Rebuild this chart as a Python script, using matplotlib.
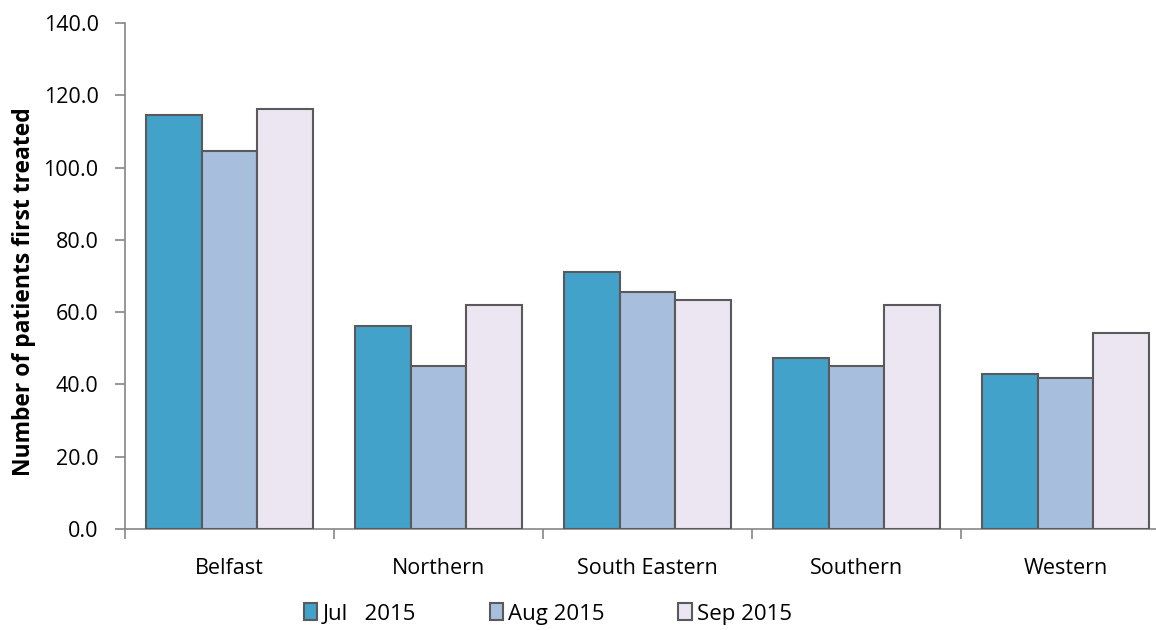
import matplotlib
matplotlib.use("Agg")
import matplotlib.pyplot as plt
import numpy as np

categories = ["Belfast", "Northern", "South Eastern", "Southern", "Western"]
series_names = ["Jul   2015", "Aug 2015", "Sep 2015"]
jul = [114.6, 56.2, 71.1, 47.3, 42.9]
aug = [104.6, 45.1, 65.6, 45.1, 41.8]
sep = [116.2, 62.0, 63.4, 62.0, 54.2]
yticks = [0, 20, 40, 60, 80, 100, 120, 140]

colors = ["#42A2CA", "#A8BEDD", "#ECE6F2"]
edge = "#5A5A5A"

plt.rcParams['font.family'] = ['Open Sans', 'DejaVu Sans']

fig = plt.figure(figsize=(11.56, 6.3), dpi=100)
ax = fig.add_axes([125/1156, 1-529/630, (1170-125)/1156, (529-23)/630])

x = np.arange(len(categories))
w = 0.265
for i, vals in enumerate([jul, aug, sep]):
    ax.bar(x + (i-1)*w, vals, width=w, color=colors[i], edgecolor=edge,
           linewidth=1.5, label=series_names[i], zorder=3)

ax.set_xlim(-0.5, len(categories)-0.5)
ax.set_ylim(0, 140)
ax.set_yticks(yticks)
ax.set_yticklabels([f"{v:.1f}" for v in yticks], fontsize=15.5)
ax.set_xticks(np.arange(-0.5, len(categories)+0.5, 1.0))
ax.set_xticklabels([])
ax.set_xticks(x, minor=True)
ax.set_xticklabels(categories, minor=True, fontsize=15.5)
ax.tick_params(axis='x', which='minor', length=0, pad=21)
ax.tick_params(axis='x', which='major', length=7, color='#868686', width=1.2)
ax.tick_params(axis='y', length=7, color='#868686', width=1.2, pad=12)
for s in ['top', 'right']:
    ax.spines[s].set_visible(False)
for s in ['left', 'bottom']:
    ax.spines[s].set_color('#868686')
    ax.spines[s].set_linewidth(1.2)

ax.set_ylabel("Number of patients first treated", fontsize=16.5, fontweight='bold')
ax.yaxis.set_label_coords(-(125-36)/(1170-125), 0.47)

leg = fig.legend(loc='center left', bbox_to_anchor=(304/1156, 1-614/630), ncol=3, frameon=False,
                 fontsize=16, handlelength=0.6, handleheight=0.8, columnspacing=3.3,
                 handletextpad=0.25, borderaxespad=0, borderpad=0)

fig.savefig("out.png", dpi=100)
